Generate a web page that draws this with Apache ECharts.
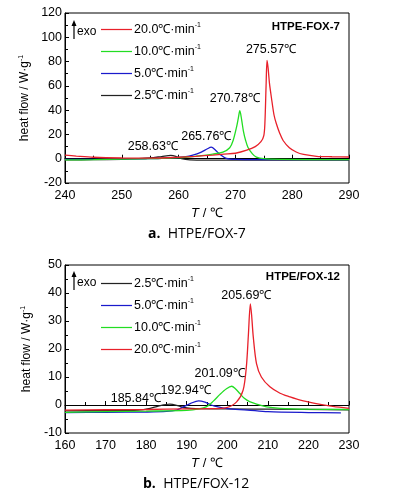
<!DOCTYPE html>
<html>
<head>
<meta charset="utf-8">
<script src="https://cdn.jsdelivr.net/npm/echarts@6/dist/echarts.min.js"></script>
<style>
  html, body { margin: 0; padding: 0; background: #fff; }
  #main { width: 396px; height: 496px; }
</style>
</head>
<body>
<div id="main"></div>
<script>
// panel a: HTPE-FOX-7
var aRed = [[240,3],[242,2.2],[245,1.2],[250,0.6],[255,0.5],[258,0.8],[260,1.2],[263,2],[266,3],[268,3.8],[270,4.5],[272,7],[273.5,10],[274.5,14],[275,19],[275.2,30],[275.4,60],[275.57,81],[275.75,75],[276,62],[276.35,50],[276.8,36],[277.2,29],[277.8,21],[278.4,15],[279.5,9],[280.7,5.5],[282,3.5],[284.3,2],[287,1.6],[290,1.4]];
var aGreen = [[240,-1],[245,-0.8],[250,-0.3],[255,0],[258,0.5],[261,1.2],[264,2.5],[266,3.8],[267.8,5.4],[269,9],[269.6,15],[270.2,26],[270.5,33],[270.78,39.5],[271.1,32],[271.4,23],[271.8,15],[272.2,9.5],[273,4],[273.7,1.3],[275,0],[278,-0.5],[290,-0.8]];
var aBlue = [[240,-0.5],[245,-0.5],[250,-0.2],[255,0],[258,0.6],[260,1],[261,1.5],[262.5,3],[264,5.5],[265,8],[265.76,9.5],[266.5,7],[267.3,3.5],[268.4,0.3],[270,-0.5],[280,-0.8],[290,-0.8]];
var aBlack = [[240,-1],[245,-0.8],[250,-0.5],[253,0],[255,0.6],[257,1.8],[258.63,2.8],[259.5,2],[260.5,0],[262,-1],[265,-1.2],[290,-1.2]];

// panel b: HTPE/FOX-12
var bBlack = [[160,-2.1],[170,-2],[178,-1.8],[181,-1.2],[183,-0.4],[185.84,0.3],[187.5,-0.1],[189,-0.8],[191,-1.2],[200,-1.4],[210,-1.5],[230,-1.7]];
var bBlue = [[160,-2.7],[170,-2.6],[180,-2.5],[185,-2.3],[187.5,-1.8],[189,-0.8],[191,0.6],[192.94,1.5],[194.5,1],[196,0],[198,-0.8],[200,-1.3],[205,-1.8],[210,-2.4],[220,-2.7],[228,-2.8]];
var bGreen = [[160,-2.6],[170,-2.4],[180,-2.2],[190,-1.9],[193,-1.4],[194.9,-0.6],[196.5,1.3],[198.2,3.8],[199.8,5.8],[201.09,6.7],[202,5.8],[203.1,4.1],[204.2,2.4],[205.5,1.2],[207.5,0.2],[209.7,-0.7],[213,-1.2],[220,-1.5],[230,-1.6]];
var bRed = [[160,-1.8],[170,-1.7],[180,-1.6],[190,-1.4],[195,-1.3],[199.8,-0.9],[202.3,1.1],[203.9,5.3],[204.7,13.6],[205.2,25],[205.69,36.1],[206,32],[206.4,24.4],[207.2,14.8],[208.4,10],[210.5,6.5],[213,4.2],[215.4,2.9],[218,1.7],[221.9,0.5],[226,-0.5],[230,-1.2]];

var rateNames = ['20.0', '10.0', '5.0', '2.5'];
var rateColors = { '20.0': '#e8202a', '10.0': '#22dd22', '5.0': '#1a1acc', '2.5': '#222222' };

var chart = echarts.init(document.getElementById('main'));
var FONT = 'Liberation Sans';

function xAxisCfg(idx, min, max) {
    return {
        type: 'value', gridIndex: idx, min: min, max: max, interval: 10,
        name: '{i|T}{n| / ℃}', nameLocation: 'middle', nameGap: 24,
        nameTextStyle: { rich: { i: { fontStyle: 'italic', fontSize: 13, fontFamily: FONT, color: '#000' }, n: { fontSize: 13, fontFamily: FONT, color: '#000' } } },
        axisLine: { lineStyle: { color: '#000', width: 1 } },
        axisTick: { inside: true, length: 4, lineStyle: { color: '#000' } },
        minorTick: { show: true, splitNumber: 2, length: 3, lineStyle: { color: '#000' } },
        axisLabel: { color: '#000', fontSize: 12.5, fontFamily: FONT, margin: 6 },
        splitLine: { show: false }
    };
}
function yAxisCfg(idx, min, max, step) {
    return {
        type: 'value', gridIndex: idx, min: min, max: max, interval: step,
        name: '{n|heat flow / W·g}{s|-1}', nameLocation: 'middle', nameGap: 28,
        nameTextStyle: { rich: { n: { fontSize: 12, fontFamily: FONT, color: '#000' }, s: { fontSize: 7, fontFamily: FONT, color: '#000', verticalAlign: 'bottom', padding: [0, 0, 7, 0] } } },
        axisLine: { show: true, lineStyle: { color: '#000', width: 1 } },
        axisTick: { inside: true, length: 4, lineStyle: { color: '#000' } },
        minorTick: { show: true, splitNumber: 2, length: 3, lineStyle: { color: '#000' } },
        axisLabel: { color: '#000', fontSize: 12.5, fontFamily: FONT, margin: 3 },
        splitLine: { show: false }
    };
}

function lineSeries(name, data, xi, peak, dx, dy) {
    return {
        name: name, type: 'line', xAxisIndex: xi, yAxisIndex: xi, data: data,
        symbol: 'none', smooth: 0.3,
        lineStyle: { color: rateColors[name], width: 1.3 },
        itemStyle: { color: rateColors[name] },
        markPoint: {
            symbol: 'circle', symbolSize: 0, silent: true,
            data: [{ coord: peak, value: peak[0].toFixed(2) + '℃' }],
            label: { show: true, position: 'inside', offset: [dx, dy], color: '#000', fontSize: 12.5, fontFamily: FONT, formatter: '{c}' }
        }
    };
}

var legendRich = { n: { fontSize: 12.5, fontFamily: FONT, color: '#000' }, s: { fontSize: 7, fontFamily: FONT, color: '#000', verticalAlign: 'bottom', padding: [0, 0, 8, 0] } };
function legendCfg(top, order) {
    return {
        orient: 'vertical', left: 101, top: top, padding: 0,
        itemWidth: 31, itemHeight: 14, itemGap: 8,
        icon: 'path://M0,0 L100,0 L100,4 L0,4 Z',
        data: order, selectedMode: false,
        formatter: function (n) { return '{n|' + n + '℃·min}{s|-1}'; },
        textStyle: { rich: legendRich, padding: [0, 0, 0, -3] }
    };
}

function exoMark(x, y) {
    return [
        { type: 'line', shape: { x1: x, y1: y + 19, x2: x, y2: y + 3 }, style: { stroke: '#000', lineWidth: 1.2 } },
        { type: 'polygon', shape: { points: [[x, y], [x - 2.5, y + 6], [x + 2.5, y + 6]] }, style: { fill: '#000' } },
        { type: 'text', x: x + 3, y: y + 6, style: { text: 'exo', fontSize: 12, fontFamily: FONT, fill: '#000' } }
    ];
}

var option = {
    backgroundColor: '#fff',
    animation: false,
    grid: [
        { left: 65, right: 47, top: 13, height: 170, show: true, borderColor: '#000', borderWidth: 1 },
        { left: 65, right: 47, top: 265, height: 168, show: true, borderColor: '#000', borderWidth: 1 }
    ],
    xAxis: [xAxisCfg(0, 240, 290), xAxisCfg(1, 160, 230)],
    yAxis: [yAxisCfg(0, -20, 120, 20), yAxisCfg(1, -10, 50, 10)],
    legend: [legendCfg(22, ['20.0', '10.0', '5.0', '2.5']), legendCfg(276, ['2.5', '5.0', '10.0', '20.0'])],
    series: [
        lineSeries('2.5', aBlack, 0, [258.63, 2.8], -18, -9),
        lineSeries('5.0', aBlue, 0, [265.76, 9.5], -5, -11),
        lineSeries('10.0', aGreen, 0, [270.78, 39.5], -5, -12),
        lineSeries('20.0', aRed, 0, [275.57, 81], 4, -11),
        lineSeries('2.5', bBlack, 1, [185.84, 0.3], -34, -6),
        lineSeries('5.0', bBlue, 1, [192.94, 1.5], -13, -10),
        lineSeries('10.0', bGreen, 1, [201.09, 6.7], -12, -13),
        lineSeries('20.0', bRed, 1, [205.69, 36.1], -4, -8)
    ],
    graphic: exoMark(74, 20).concat(exoMark(74, 271)).concat([
        { type: 'text', right: 56, top: 21, style: { text: 'HTPE-FOX-7', fontSize: 11.5, fontWeight: 'bold', fontFamily: FONT, fill: '#000' } },
        { type: 'text', right: 56, top: 271, style: { text: 'HTPE/FOX-12', fontSize: 11.5, fontWeight: 'bold', fontFamily: FONT, fill: '#000' } },
        { type: 'text', left: 148, top: 227, style: { text: '{b|a.}{t|  HTPE/FOX-7}', rich: { b: { fontSize: 14, fontWeight: 'bold', fontFamily: 'Open Sans', fill: '#000' }, t: { fontSize: 14, fontFamily: 'Open Sans', fill: '#000' } } } },
        { type: 'text', left: 143, top: 477, style: { text: '{b|b.}{t|  HTPE/FOX-12}', rich: { b: { fontSize: 14, fontWeight: 'bold', fontFamily: 'Open Sans', fill: '#000' }, t: { fontSize: 14, fontFamily: 'Open Sans', fill: '#000' } } } }
    ])
};

chart.setOption(option);
</script>
</body>
</html>
